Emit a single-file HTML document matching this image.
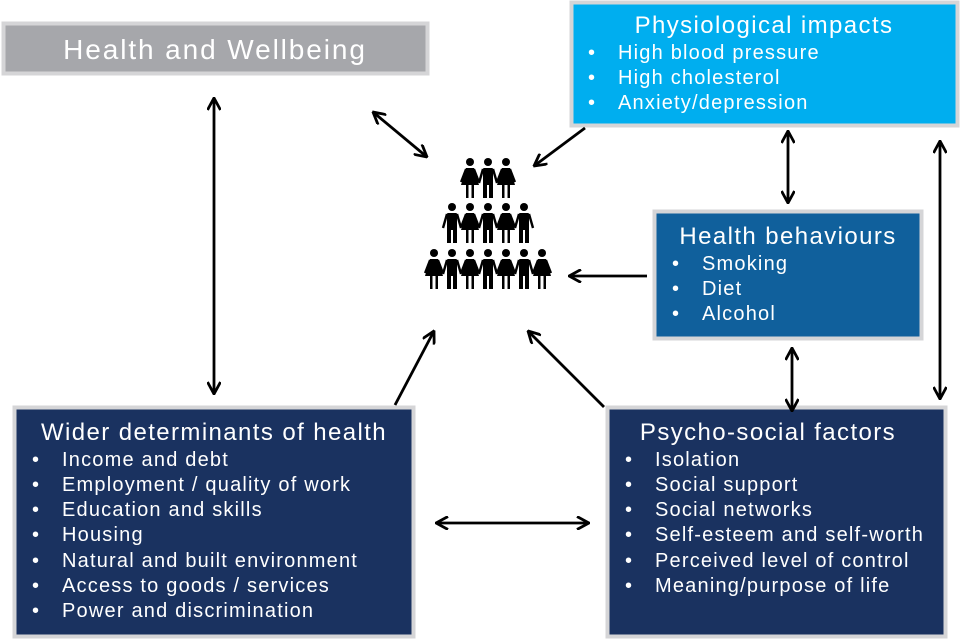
<!DOCTYPE html>
<html><head><meta charset="utf-8"><style>
html,body{margin:0;padding:0;background:#fff;}
svg{display:block;font-family:"Liberation Sans",Arial,sans-serif;}
</style></head><body>
<svg width="960" height="640" viewBox="0 0 960 640" xmlns="http://www.w3.org/2000/svg">
<defs>
<marker id="a" viewBox="0 0 14 14" refX="13" refY="7" markerWidth="14" markerHeight="14" markerUnits="userSpaceOnUse" orient="auto-start-reverse">
<polyline points="1,0.5 13,7 1,13.5" fill="none" stroke="#000" stroke-width="2.8"/>
</marker>
<g id="w"><circle cx="0" cy="4" r="4"/><path d="M-4,10 L4,10 L9,27 L-9,27 Z"/><rect x="-4" y="26" width="2.5" height="14"/><rect x="1.5" y="26" width="2.5" height="14"/><path d="M-4,11 L-9,24" stroke="#000" stroke-width="2.2"/><path d="M4,11 L9,24" stroke="#000" stroke-width="2.2"/></g>
<g id="m"><circle cx="0" cy="4" r="4"/><rect x="-5" y="10" width="10" height="17" rx="1"/><rect x="-5" y="26" width="4" height="14"/><rect x="1" y="26" width="4" height="14"/><path d="M-5,11 L-9,25" stroke="#000" stroke-width="2.4"/><path d="M5,11 L9,25" stroke="#000" stroke-width="2.4"/></g>
</defs>
<rect x="3.5" y="23.5" width="424" height="50" fill="#a6a7ab" stroke="#d5d5d7" stroke-width="4"/>
<rect x="571.5" y="2.5" width="386" height="123" fill="#00aeef" stroke="#d5d5d7" stroke-width="4"/>
<rect x="654.5" y="211.5" width="267" height="127" fill="#10609c" stroke="#d5d5d7" stroke-width="4"/>
<rect x="14.5" y="407.5" width="399" height="229" fill="#1a3260" stroke="#d5d5d7" stroke-width="4"/>
<rect x="607.5" y="407.5" width="338" height="229" fill="#1a3260" stroke="#d5d5d7" stroke-width="4"/>
<g fill="#fff">
<text x="215" y="59" font-size="28" letter-spacing="1.9" text-anchor="middle">Health and Wellbeing</text>
<g font-size="24" letter-spacing="1.4" text-anchor="middle">
<text x="764" y="33">Physiological impacts</text>
<text x="788" y="244">Health behaviours</text>
<text x="214" y="440">Wider determinants of health</text>
<text x="768" y="440">Psycho-social factors</text>
</g>
<g font-size="20" letter-spacing="1.2">
<text x="588" y="59">•</text><text x="618" y="59">High blood pressure</text>
<text x="588" y="84">•</text><text x="618" y="84">High cholesterol</text>
<text x="588" y="109">•</text><text x="618" y="109">Anxiety/depression</text>
<text x="672" y="270">•</text><text x="702" y="270">Smoking</text>
<text x="672" y="295">•</text><text x="702" y="295">Diet</text>
<text x="672" y="320">•</text><text x="702" y="320">Alcohol</text>
<text x="32" y="466">•</text><text x="62" y="466">Income and debt</text>
<text x="32" y="491">•</text><text x="62" y="491">Employment / quality of work</text>
<text x="32" y="516">•</text><text x="62" y="516">Education and skills</text>
<text x="32" y="541">•</text><text x="62" y="541">Housing</text>
<text x="32" y="567">•</text><text x="62" y="567">Natural and built environment</text>
<text x="32" y="592">•</text><text x="62" y="592">Access to goods / services</text>
<text x="32" y="617">•</text><text x="62" y="617">Power and discrimination</text>
<text x="625" y="466">•</text><text x="655" y="466">Isolation</text>
<text x="625" y="491">•</text><text x="655" y="491">Social support</text>
<text x="625" y="516">•</text><text x="655" y="516">Social networks</text>
<text x="625" y="541">•</text><text x="655" y="541">Self-esteem and self-worth</text>
<text x="625" y="567">•</text><text x="655" y="567">Perceived level of control</text>
<text x="625" y="592">•</text><text x="655" y="592">Meaning/purpose of life</text>
</g>
</g>
<g stroke="#000" stroke-width="2.8" fill="none">
<line x1="214" y1="98" x2="214" y2="394" marker-start="url(#a)" marker-end="url(#a)"/>
<line x1="373" y1="112" x2="427" y2="157" marker-start="url(#a)" marker-end="url(#a)"/>
<line x1="585" y1="128" x2="534" y2="166" marker-end="url(#a)"/>
<line x1="788" y1="131" x2="788" y2="203" marker-start="url(#a)" marker-end="url(#a)"/>
<line x1="940" y1="141" x2="940" y2="399" marker-start="url(#a)" marker-end="url(#a)"/>
<line x1="647" y1="276" x2="569" y2="276" marker-end="url(#a)"/>
<line x1="792" y1="348" x2="792" y2="411" marker-start="url(#a)" marker-end="url(#a)"/>
<line x1="395" y1="405" x2="434" y2="331" marker-end="url(#a)"/>
<line x1="604" y1="407" x2="528" y2="331" marker-end="url(#a)"/>
<line x1="436" y1="523" x2="589" y2="523" marker-start="url(#a)" marker-end="url(#a)"/>
</g>
<g fill="#000">
<use href="#w" x="470" y="158"/><use href="#m" x="488" y="158"/><use href="#w" x="506" y="158"/>
<use href="#m" x="452" y="203"/><use href="#w" x="470" y="203"/><use href="#m" x="488" y="203"/><use href="#w" x="506" y="203"/><use href="#m" x="524" y="203"/>
<use href="#w" x="434" y="249"/><use href="#m" x="452" y="249"/><use href="#w" x="470" y="249"/><use href="#m" x="488" y="249"/><use href="#w" x="506" y="249"/><use href="#m" x="524" y="249"/><use href="#w" x="542" y="249"/>
</g>
</svg>
</body></html>
